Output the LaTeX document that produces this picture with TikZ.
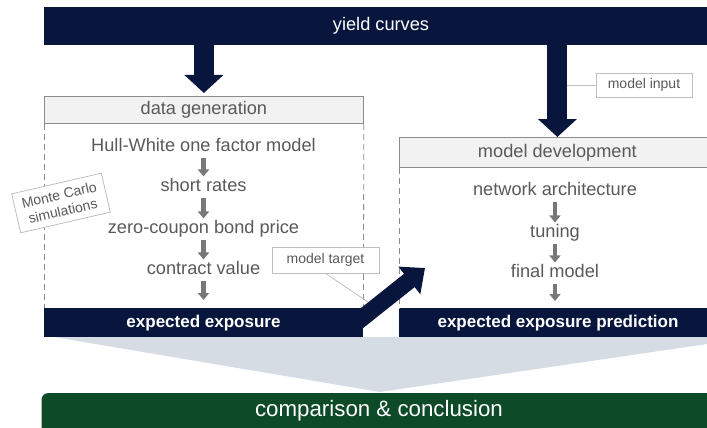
\documentclass[tikz,border=0pt]{standalone}
\usepackage{fontspec}
\setmainfont{Liberation Sans}
\usetikzlibrary{arrows.meta,calc}
\definecolor{navy}{RGB}{8,22,62}
\definecolor{dkgreen}{RGB}{12,74,40}
\definecolor{txtgray}{RGB}{89,89,89}
\definecolor{hdrfill}{RGB}{242,242,242}
\definecolor{hdrline}{RGB}{140,140,140}
\definecolor{lblline}{RGB}{191,191,191}
\definecolor{chev}{RGB}{214,220,228}
\definecolor{smallarr}{RGB}{120,120,120}
\newcommand{\bodyfont}{\fontsize{18.2}{22}\selectfont}
\newcommand{\lblfont}{\fontsize{14}{16.5}\selectfont}
\newcommand{\barfont}{\bfseries\fontsize{17}{20}\selectfont}
\tikzset{
  darkbar/.style={fill=navy, text=white, inner sep=0pt, anchor=north west},
  hdrbox/.style={fill=hdrfill, draw=hdrline, line width=0.8pt, text=txtgray, inner sep=0pt, anchor=north west, font=\bodyfont},
  item/.style={text=txtgray, font=\bodyfont, inner sep=0pt, text height=13.5pt, text depth=4.2pt},
  smarr/.style={draw=smallarr, line width=4.5pt, -{Triangle[length=7pt,width=11pt]}, shorten <=2pt, shorten >=1.5pt},
  bigarr/.style={draw=navy, line width=20pt, -{Triangle[length=18pt,width=38pt]}},
  diagarr/.style={draw=navy, line width=17pt, -{Triangle[length=20pt,width=34pt]}},
  lblbox/.style={draw=lblline, fill=white, text=txtgray, font=\lblfont, line width=0.8pt, inner sep=0pt, align=center},
  leader/.style={draw=lblline, line width=0.8pt},
  dashside/.style={draw=hdrline, line width=0.8pt, dash pattern=on 6pt off 4pt},
  bartext/.style={text=white, inner sep=0pt}
}
\begin{document}
\begin{tikzpicture}[x=1pt,y=-1pt]
\useasboundingbox (0,0) rectangle (707,428);

% yield curves bar
\node[darkbar, minimum width=674pt, minimum height=38pt] (yc) at (44,7) {};
\node[bartext, font=\bodyfont] (yctext) at (381,26) {yield curves};

% data generation box
\node[hdrbox, minimum width=319pt, minimum height=27pt] (dgh) at (44,96) {data generation};
\node[darkbar, minimum width=319pt, minimum height=29pt] (ee) at (44,308) {};
\node[bartext, font=\barfont] (eetext) at (203.5,323) {expected exposure};
\draw[dashside] (dgh.south west) -- (ee.north west);
\draw[dashside] (dgh.south east) -- (ee.north east);

\node[item] (hw) at (203.5,147) {Hull-White one factor model};
\node[item] (sr) at (203.5,187) {short rates};
\node[item] (zc) at (203.5,229) {zero-coupon bond price};
\node[item] (cv) at (203.5,270) {contract value};
\draw[smarr] (hw.south) -- (sr.north);
\draw[smarr] (sr.south) -- (zc.north);
\draw[smarr] (zc.south) -- (cv.north);
\draw[smarr, shorten >=8pt] (cv.south) -- (cv.south |- ee.north);

% model development box
\node[hdrbox, minimum width=316pt, minimum height=30pt] (mdh) at (399,137) {model development};
\node[darkbar, minimum width=316pt, minimum height=29pt] (eep) at (399,308) {};
\node[bartext, font=\barfont] (eeptext) at (558,323) {expected exposure prediction};
\draw[dashside] (mdh.south west) -- (eep.north west);

\node[item] (na) at (555,191) {network architecture};
\node[item] (tu) at (555,233) {tuning};
\node[item] (fm) at (555,273) {final model};
\draw[smarr] (na.south) -- (tu.north);
\draw[smarr] (tu.south) -- (fm.north);
\draw[smarr, shorten >=7pt] (fm.south) -- (fm.south |- eep.north);

% big arrows from yield curves
\draw[bigarr, shorten >=3pt] (yc.south -| dgh.north) -- (dgh.north);
\draw[bigarr] (yc.south -| mdh.north) -- (mdh.north);

% diagonal arrow
\coordinate (dstart) at (342,334);
\coordinate (dtip) at (425,268);
\draw[diagarr] (dstart) -- (dtip);

% chevron
\fill[chev] (54,337) -- (707,337) -- (707,344) -- (380,392) -- cycle;

% comparison bar
\node[darkbar, fill=dkgreen, rounded corners=6pt, minimum width=676pt, minimum height=50pt] (cc) at (41.5,393) {};
\node[bartext, font=\fontsize{22.3}{26}\selectfont] (cctext) at (379,411) {comparison \& conclusion};

% labels
\node[lblbox, minimum width=96pt, minimum height=24pt] (lblin) at (644,85) {model input};
\draw[leader] (lblin.west) -- ([xshift=10pt]lblin.west -| mdh.north);
\node[lblbox, minimum width=107pt, minimum height=26pt] (lbltg) at (325.5,260) {model target};
\coordinate (tgend) at (368,302);
\draw[leader] (lbltg.south) -- (tgend);
\node[lblbox, minimum width=92pt, minimum height=40pt, rotate=13] (mc) at (61,203) {Monte Carlo\\simulations};
\end{tikzpicture}
\end{document}
